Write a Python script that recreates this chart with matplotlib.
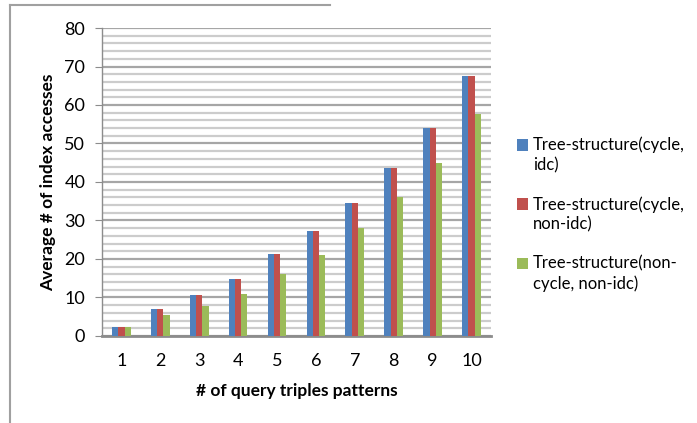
import numpy as np
import matplotlib
matplotlib.use("Agg")
import matplotlib.pyplot as plt
from matplotlib.lines import Line2D
from matplotlib.patches import Rectangle, Patch
from matplotlib.legend_handler import HandlerPatch

plt.rcParams['font.family'] = ['Lato', 'DejaVu Sans']

patterns = [1, 2, 3, 4, 5, 6, 7, 8, 9, 10]
cycle_idc = [2.3, 6.9, 10.6, 14.8, 21.3, 27.2, 34.6, 43.6, 54.0, 67.6]
cycle_nonidc = [2.3, 6.9, 10.6, 14.8, 21.3, 27.2, 34.6, 43.6, 54.0, 67.6]
noncycle_nonidc = [2.3, 5.45, 7.9, 10.9, 16.0, 21.0, 28.0, 36.0, 44.9, 57.7]
labels = ["Tree-structure(cycle,\nidc)",
          "Tree-structure(cycle,\nnon-idc)",
          "Tree-structure(non-\ncycle, non-idc)"]
colors = ["#4f81bd", "#c0504d", "#9bbb59"]


def first_line_square(legend, orig_handle, xdescent, ydescent, width, height, fontsize):
    # put the legend square next to the first line of a two-line label
    return Rectangle((-xdescent, -ydescent + 0.65 * fontsize), width, height)


fig = plt.figure(figsize=(6.97, 4.23), dpi=100)
ax = fig.add_axes([0.1463, 0.2057, 0.7044 - 0.1463, 0.9338 - 0.2057])

x = np.arange(len(patterns))
w = 0.16
for i, (vals, c) in enumerate(zip([cycle_idc, cycle_nonidc, noncycle_nonidc], colors)):
    ax.bar(x + (i - 1) * w, vals, width=w, color=c, zorder=3)

ax.set_xlim(-0.5, len(patterns) - 0.5)
ax.set_ylim(0, 80)
ax.set_yticks(range(0, 81, 10))
ax.set_yticks(range(0, 81, 2), minor=True)
ax.set_xticks(x)
ax.set_xticklabels([str(p) for p in patterns])
ax.grid(axis='y', which='major', color='#a6a6a6', linewidth=1.6, zorder=0)
ax.grid(axis='y', which='minor', color='#cccccc', linewidth=1.6, zorder=0)
ax.tick_params(axis='y', which='minor', length=0)
ax.tick_params(axis='y', which='major', length=5, color='#8c8c8c', labelsize=13, pad=7)
ax.tick_params(axis='x', length=0, labelsize=13, pad=12)
for s in ['top', 'right']:
    ax.spines[s].set_visible(False)
ax.spines['left'].set_color('#8c8c8c')
ax.spines['bottom'].set_color('#8c8c8c')
ax.spines['bottom'].set_linewidth(2)
ax.spines['left'].set_linewidth(1)

ax.set_xlabel("# of query triples patterns", fontsize=12.5, fontweight='bold', labelpad=10)
ax.set_ylabel("Average # of index accesses", fontsize=12.5, fontweight='bold', labelpad=6)

handles = [Patch(facecolor=c, edgecolor='none') for c in colors]
leg = fig.legend(handles, labels, loc='upper left', bbox_to_anchor=(0.72, 0.712), frameon=False,
                 fontsize=12, handlelength=0.66, handleheight=0.66, handletextpad=0.3,
                 labelspacing=1.35, borderpad=0.4,
                 handler_map={Patch: HandlerPatch(patch_func=first_line_square)})
for t in leg.get_texts():
    t.set_linespacing(1.3)

# outer chart border
fig.add_artist(Line2D([10 / 697, 10 / 697], [0, 1 - 5 / 423], color='#a0a0a0', linewidth=1.5))
fig.add_artist(Line2D([10 / 697, 330 / 697], [1 - 5 / 423, 1 - 5 / 423], color='#a0a0a0', linewidth=1.5))

fig.savefig("out.png", dpi=100)
